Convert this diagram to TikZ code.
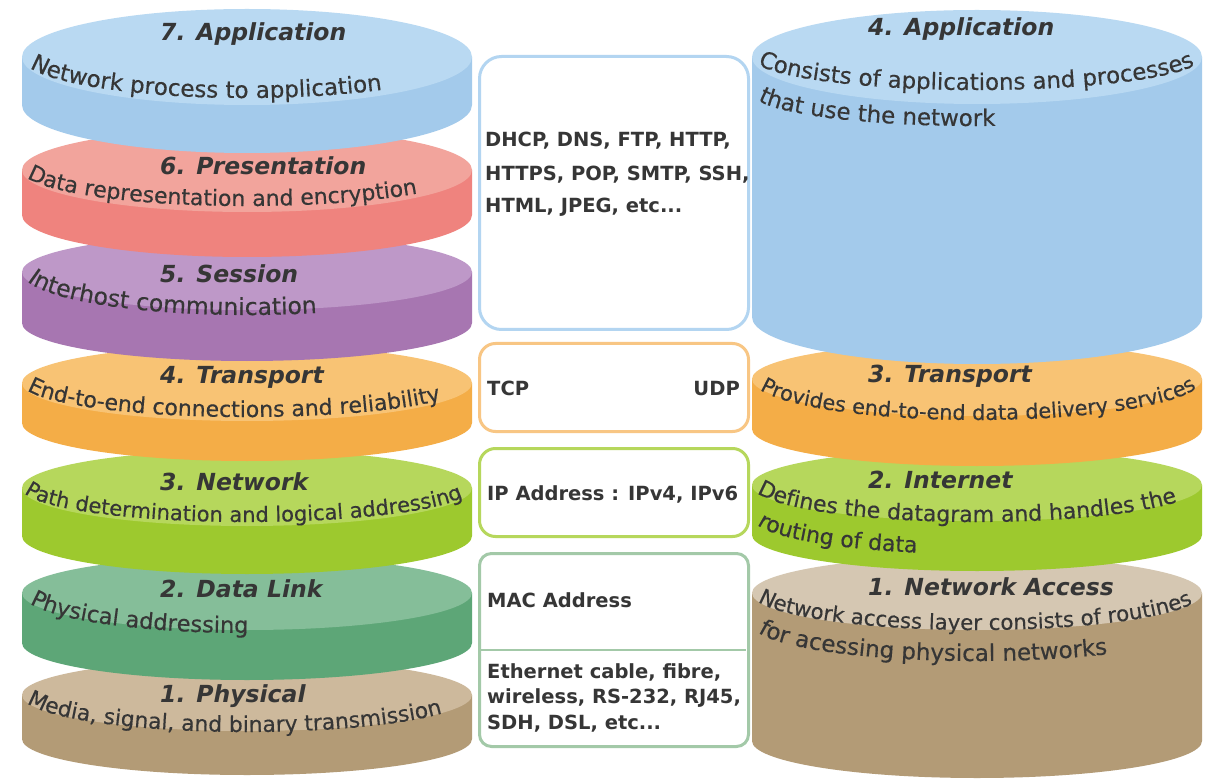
\documentclass[tikz,border=0pt]{standalone}
\usepackage{fontspec}
\setmainfont{DejaVu Sans}
\newfontfamily\descfont{DejaVu Sans}[FakeBold=0.4]
\usetikzlibrary{decorations.text}
\definecolor{txt}{HTML}{363636}
\definecolor{blueTop}{HTML}{B9D9F2}\definecolor{blueSide}{HTML}{A3CAEB}
\definecolor{redTop}{HTML}{F2A49C}\definecolor{redSide}{HTML}{EF837E}
\definecolor{purTop}{HTML}{BE98C8}\definecolor{purSide}{HTML}{A776B1}
\definecolor{oraTop}{HTML}{F8C374}\definecolor{oraSide}{HTML}{F4AD47}
\definecolor{grnTop}{HTML}{B6D75C}\definecolor{grnSide}{HTML}{9DC92E}
\definecolor{tealTop}{HTML}{85BE99}\definecolor{tealSide}{HTML}{5DA677}
\definecolor{brnTop}{HTML}{CDB99C}\definecolor{brnSide}{HTML}{B39B76}
\definecolor{naTop}{HTML}{D5C7B2}
\definecolor{boxBlue}{HTML}{B3D5F1}
\definecolor{boxOra}{HTML}{F8C684}
\definecolor{boxGrn}{HTML}{B6D75C}
\definecolor{boxTeal}{HTML}{A3C9A8}
% cx, cy, rx, ry, h, top colour, side colour
\newcommand\mydisk[7]{%
  \fill[#7] (#1-#3,#2) -- (#1-#3,#2-#5) arc[start angle=180,end angle=360,x radius=#3,y radius=#4] -- (#1+#3,#2) -- cycle;
  \fill[#6] (#1,#2) ellipse[x radius=#3,y radius=#4];
}
% cx, cy, ry, start angle, font size, text
\newcommand\mydesc[6]{%
  \path[shift={(#1,#2)},decorate,decoration={text along path,text align=left,
      text={|\descfont\fontsize{#5}{#5}\selectfont\color{txt}|#6}}]
    (#4:225 and #3) arc[start angle=#4,end angle=385,x radius=225,y radius=#3];
}
\tikzset{
  title/.style={font=\bfseries\itshape\fontsize{23.5}{23.5}\selectfont,text=txt,inner sep=0pt,anchor=base west},
  midtxt/.style={font=\bfseries\fontsize{19.5}{19.5}\selectfont,text=txt,inner sep=0pt,anchor=base west},
  midbox/.style={line width=3pt,inner sep=0pt,anchor=north west,fill=white},
}
\begin{document}
\begin{tikzpicture}[x=1pt,y=1pt]
\useasboundingbox[fill=white] (0,0) rectangle (1214,780);
% left stack (OSI)
\mydisk{247}{85}{225}{36}{44}{brnTop}{brnSide}
\mydisk{247}{187}{225}{37}{50}{tealTop}{tealSide}
\mydisk{247}{292}{225}{38}{48}{grnTop}{grnSide}
\mydisk{247}{397}{225}{38}{40}{oraTop}{oraSide}
\mydisk{247}{508}{225}{38}{51}{purTop}{purSide}
\mydisk{247}{610}{225}{42}{45}{redTop}{redSide}
\mydisk{247}{723}{225}{48}{48}{blueTop}{blueSide}
% right stack (TCP/IP)
\mydisk{977}{187}{225}{37}{148}{naTop}{brnSide}
\mydisk{977}{295}{225}{36}{50}{grnTop}{grnSide}
\mydisk{977}{401}{225}{37}{50}{oraTop}{oraSide}
\mydisk{977}{723}{225}{47}{260}{blueTop}{blueSide}
% titles left
\node[title] (t7) at (160,739) {7. Application};
\node[title] (t6) at (160,605) {6. Presentation};
\node[title] (t5) at (160,497) {5. Session};
\node[title] (t4) at (160,397) {4. Transport};
\node[title] (t3) at (160,290) {3. Network};
\node[title] (t2) at (160,183) {2. Data Link};
\node[title] (t1) at (160,78) {1. Physical};
% titles right
\node[title] (r4) at (868,744) {4. Application};
\node[title] (r3) at (868,398) {3. Transport};
\node[title] (r2) at (868,292) {2. Internet};
\node[title] (r1) at (868,185) {1. Network Access};
% descriptions left
\mydesc{247}{723}{41}{195}{23}{Network process to application}
\mydesc{247}{610}{36}{192}{22}{Data representation and encryption}
\mydesc{247}{508}{43}{192}{23.5}{Interhost communication}
\mydesc{247}{397}{34}{192}{22}{End-to-end connections and reliability}
\mydesc{247}{292}{34}{188}{21}{Path determination and logical addressing}
\mydesc{247}{187}{40}{195}{22.5}{Physical addressing}
\mydesc{247}{85}{37}{192}{21.8}{Media, signal, and binary transmission}
% descriptions right
\mydesc{977}{723}{33}{193}{22.9}{Consists of applications and processes}
\mydesc{977}{687}{33}{193}{23}{that use the network}
\mydesc{977}{401}{41}{195}{20.8}{Provides end-to-end data delivery services}
\mydesc{977}{295}{37}{192}{22}{Defines the datagram and handles the}
\mydesc{977}{263}{37}{192}{22}{routing of data}
\mydesc{977}{187}{37}{193}{21.3}{Network access layer consists of routines}
\mydesc{977}{156}{37}{193}{23}{for acessing physical networks}
% middle boxes
\node[midbox,draw=boxBlue,rounded corners=22pt,minimum width=269pt,minimum height=273pt] (b1) at (478,725) {};
\node[midbox,draw=boxOra,rounded corners=16pt,minimum width=269pt,minimum height=88pt] (b2) at (478,438) {};
\node[midbox,draw=boxGrn,rounded corners=16pt,minimum width=269pt,minimum height=88pt] (b3) at (478,333) {};
\node[midbox,draw=boxTeal,rounded corners=12pt,minimum width=269pt,minimum height=193pt] (b4) at (478,228) {};
\coordinate (dl) at (479,130);
\coordinate (dr) at (746,130);
\draw[boxTeal,line width=2.5pt] (dl) -- (dr);
\node[midtxt] (m1a) at (485,633) {DHCP, DNS, FTP, HTTP,};
\node[midtxt] (m1b) at (485,599) {HTTPS, POP, SMTP, SSH,};
\node[midtxt] (m1c) at (485,567) {HTML, JPEG, etc...};
\node[midtxt] (tcp) at (487,385) {TCP};
\node[midtxt,anchor=base east] (udp) at (740,385) {UDP};
\node[midtxt] (ip) at (487,280) {IP Address : IPv4, IPv6};
\node[midtxt] (mac) at (487,173) {MAC Address};
\node[midtxt] (e1) at (487,102) {Ethernet cable, fibre,};
\node[midtxt] (e2) at (487,76.5) {wireless, RS-232, RJ45,};
\node[midtxt] (e3) at (487,51) {SDH, DSL, etc...};
\end{tikzpicture}
\end{document}
